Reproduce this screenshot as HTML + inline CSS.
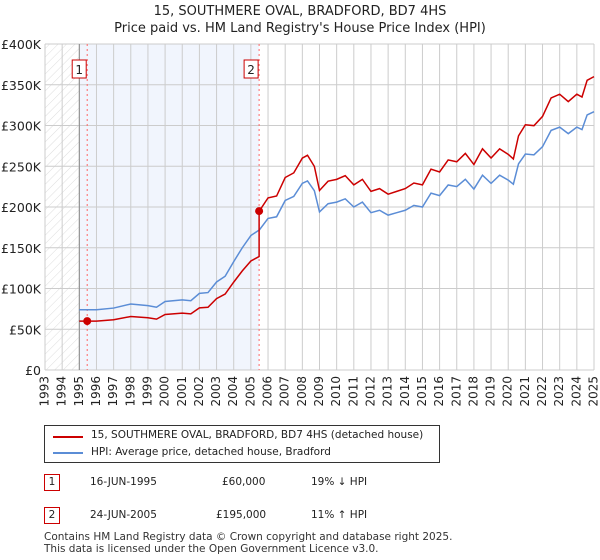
<!DOCTYPE html>
<html><head><meta charset="utf-8"><style>
body{margin:0;width:600px;height:560px;background:#fff;font-family:"DejaVu Sans","Liberation Sans",sans-serif;color:#222;position:relative;overflow:hidden}
.t{position:absolute;font-size:13px}
</style></head><body>
<div class="t" style="left:0;width:600px;text-align:center;top:3px;font-size:13px;line-height:17px">15, SOUTHMERE OVAL, BRADFORD, BD7 4HS<br>Price paid vs. HM Land Registry's House Price Index (HPI)</div>
<svg id="c" width="600" height="420" style="position:absolute;left:0;top:0"></svg>
<div style="position:absolute;left:44px;top:425px;width:394px;height:36px;border:1px solid #333;font-size:10.5px">
<div style="position:absolute;left:8px;top:4px;width:30px;height:2px;background:#c00;margin-top:6px"></div>
<div style="position:absolute;left:46px;top:3px">15, SOUTHMERE OVAL, BRADFORD, BD7 4HS (detached house)</div>
<div style="position:absolute;left:8px;top:21px;width:30px;height:2px;background:#5b8dd6;margin-top:5px"></div>
<div style="position:absolute;left:46px;top:20px">HPI: Average price, detached house, Bradford</div>
</div>
<div style="position:absolute;left:0;top:474px;font-size:10.5px;width:600px">
<span style="position:absolute;left:44px;border:1px solid #c00;width:14px;height:15px;text-align:center;line-height:15px">1</span>
<span style="position:absolute;left:90px;top:2px">16-JUN-1995</span><span style="position:absolute;left:222px;top:2px">£60,000</span><span style="position:absolute;left:311px;top:2px">19% ↓ HPI</span></div>
<div style="position:absolute;left:0;top:507px;font-size:10.5px;width:600px">
<span style="position:absolute;left:44px;border:1px solid #c00;width:14px;height:15px;text-align:center;line-height:15px">2</span>
<span style="position:absolute;left:90px;top:2px">24-JUN-2005</span><span style="position:absolute;left:216px;top:2px">£195,000</span><span style="position:absolute;left:311px;top:2px">11% ↑ HPI</span></div>
<div style="position:absolute;left:44px;top:531px;font-size:10.5px;line-height:12px;color:#333">Contains HM Land Registry data © Crown copyright and database right 2025.<br>This data is licensed under the Open Government Licence v3.0.</div>
<script>
const hpiYears=[1995,1995.5,1996,1997,1998,1999,1999.5,2000,2001,2001.5,2002,2002.5,2003,2003.5,2004,2004.5,2005,2005.5,2006,2006.5,2007,2007.5,2008,2008.3,2008.7,2009,2009.5,2010,2010.5,2011,2011.5,2012,2012.5,2013,2013.5,2014,2014.5,2015,2015.5,2016,2016.5,2017,2017.5,2018,2018.5,2019,2019.5,2020,2020.3,2020.6,2021,2021.5,2022,2022.5,2023,2023.5,2024,2024.3,2024.6,2025];
const hpiValues=[74,74,74,76,81,79,77,84,86,85,94,95,108,115,133,150,165,172,186,188,208,213,229,232,220,194,204,206,210,200,206,193,196,190,193,196,202,200,217,214,227,225,234,222,239,229,239,233,228,253,265,264,274,294,298,290,298,295,313,317];
const saleYears=[1995.46,2005.48];
const saleValues=[60,195];
const yTicks=[0,50,100,150,200,250,300,350,400];
const yLabels=["£0","£50K","£100K","£150K","£200K","£250K","£300K","£350K","£400K"];
const xTicks=[1993,1994,1995,1996,1997,1998,1999,2000,2001,2002,2003,2004,2005,2006,2007,2008,2009,2010,2011,2012,2013,2014,2015,2016,2017,2018,2019,2020,2021,2022,2023,2024,2025];
const X0=45,X1=594,Y0=370,Y1=44;
const xs=y=>X0+(y-1993)/(2025-1993)*(X1-X0);
const ys=v=>Y0-v/400*(Y0-Y1);
const svg=document.getElementById('c');const NS='http://www.w3.org/2000/svg';
function mk(t,a,p){const e=document.createElementNS(NS,t);for(const k in a)e.setAttribute(k,a[k]);(p||svg).appendChild(e);return e;}
const defs=mk('defs',{});const pat=mk('pattern',{id:'h',width:6,height:6,patternUnits:'userSpaceOnUse',patternTransform:'rotate(45)'},defs);
mk('line',{x1:0,y1:0,x2:0,y2:6,stroke:'#ddd','stroke-width':1},pat);
let e=mk('rect',{x:X0,y:Y1,width:xs(1995)-X0,height:Y0-Y1,fill:'url(#h)'});

e=mk('rect',{x:xs(1995),y:Y1,width:xs(saleYears[1])-xs(1995),height:Y0-Y1,fill:'#eef3fc',opacity:0.8});

xTicks.forEach(t=>{const l=mk('line',{x1:xs(t),x2:xs(t),y1:Y1,y2:Y0,stroke:'#ccc'});
const tx=mk('text',{x:0,y:0,'font-size':12,fill:'#222','text-anchor':'end','dominant-baseline':'middle',transform:`translate(${xs(t)},${Y0+6}) rotate(-90)`});tx.textContent=t;});
yTicks.forEach((t,i)=>{const l=mk('line',{x1:X0,x2:X1,y1:ys(t),y2:ys(t),stroke:'#ccc'});
const tx=mk('text',{x:X0-4,y:ys(t)+5,'font-size':12.5,fill:'#222','text-anchor':'end'});tx.textContent=yLabels[i];});
e=mk('line',{x1:xs(1995),x2:xs(1995),y1:Y1,y2:Y0,stroke:'#888'});
saleYears.forEach((s,i)=>{const l=mk('line',{x1:xs(s),x2:xs(s),y1:Y1,y2:Y0,stroke:'#f66','stroke-dasharray':'2,3'});
const r=mk('rect',{x:xs(s)-15,y:60,width:14,height:18,fill:'#fff',stroke:'#c00'});
const t=mk('text',{x:xs(s)-8,y:74,'font-size':12,'text-anchor':'middle',fill:'#222'});t.textContent=i+1;});
function hpiAt(y){for(let i=1;i<hpiYears.length;i++){if(y<=hpiYears[i]){const f=(y-hpiYears[i-1])/(hpiYears[i]-hpiYears[i-1]);return hpiValues[i-1]+f*(hpiValues[i]-hpiValues[i-1]);}}return hpiValues[hpiValues.length-1];}
e=mk('path',{d:'M'+hpiYears.map((y,i)=>xs(y)+','+ys(hpiValues[i])).join('L'),fill:'none',stroke:'#5b8dd6','stroke-width':1.5});

const r1=saleValues[0]/hpiAt(saleYears[0]),r2=saleValues[1]/hpiAt(saleYears[1]);
let pts=[[saleYears[0],saleValues[0]]];
hpiYears.forEach((y,i)=>{if(y>saleYears[0]&&y<saleYears[1])pts.push([y,hpiValues[i]*r1]);});
pts.push([saleYears[1],hpiAt(saleYears[1])*r1]);pts.push([saleYears[1],saleValues[1]]);
hpiYears.forEach((y,i)=>{if(y>saleYears[1])pts.push([y,hpiValues[i]*r2]);});
pts.unshift([1995,hpiAt(1995)*r1]);
e=mk('path',{d:'M'+pts.map(p=>xs(p[0])+','+ys(p[1])).join('L'),fill:'none',stroke:'#c00','stroke-width':1.5});

saleYears.forEach((s,i)=>{const c=mk('circle',{cx:xs(s),cy:ys(saleValues[i]),r:4,fill:'#c00'});});
</script>
</body></html>
